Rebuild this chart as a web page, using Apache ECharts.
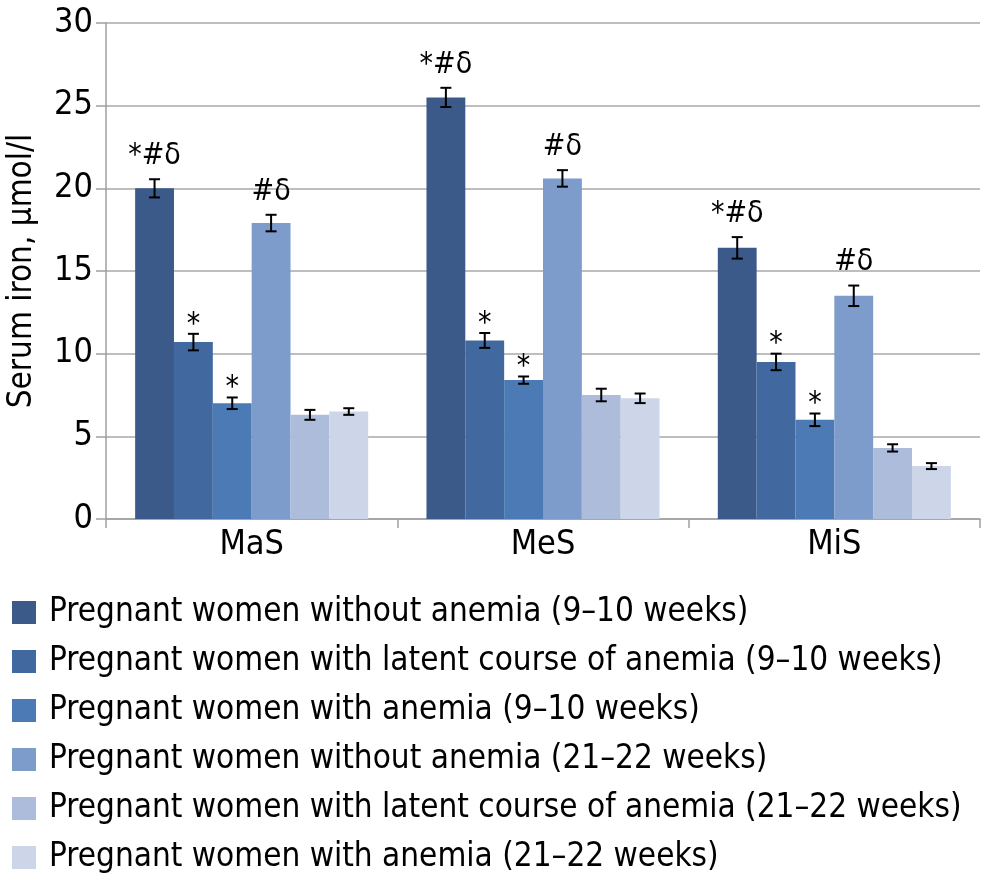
<!DOCTYPE html>
<html><head><meta charset="utf-8">
<script src="https://cdn.jsdelivr.net/npm/echarts@6/dist/echarts.min.js"></script>
<style>html,body{margin:0;padding:0;background:#fff}#c{width:982px;height:881px}</style>
</head><body><div id="c"></div>
<script>
const categories = ['MaS', 'MeS', 'MiS'];
const seriesNames = [
  'Pregnant women without anemia (9–10 weeks)',
  'Pregnant women with latent course of anemia (9–10 weeks)',
  'Pregnant women with anemia (9–10 weeks)',
  'Pregnant women without anemia (21–22 weeks)',
  'Pregnant women with latent course of anemia (21–22 weeks)',
  'Pregnant women with anemia (21–22 weeks)'
];
// values per series: [MaS, MeS, MiS]
const s1 = [20.0, 25.5, 16.4];
const s2 = [10.7, 10.8, 9.5];
const s3 = [7.0, 8.4, 6.0];
const s4 = [17.9, 20.6, 13.5];
const s5 = [6.3, 7.5, 4.3];
const s6 = [6.5, 7.3, 3.2];
// error (±) per series
const e1 = [0.55, 0.58, 0.65];
const e2 = [0.5, 0.45, 0.5];
const e3 = [0.35, 0.22, 0.38];
const e4 = [0.5, 0.5, 0.62];
const e5 = [0.3, 0.38, 0.22];
const e6 = [0.2, 0.29, 0.18];
// significance marks
const m1 = ['*#δ', '*#δ', '*#δ'];
const m2 = ['*', '*', '*'];
const m3 = ['*', '*', '*'];
const m4 = ['#δ', '#δ', '#δ'];
const m5 = ['', '', ''];
const m6 = ['', '', ''];
const yTicks = [0, 5, 10, 15, 20, 25, 30];

const values = [s1, s2, s3, s4, s5, s6];
const errors = [e1, e2, e3, e4, e5, e6];
const marks = [m1, m2, m3, m4, m5, m6];
const colors = ['#3B5A8A', '#4169A0', '#4B7AB5', '#7D9BCB', '#AEBCDC', '#CDD5E9'];
const FONT = "'DejaVu Sans Condensed', 'DejaVu Sans', sans-serif";

const errData = [];
const errMarks = [];
for (let s = 0; s < 6; s++) {
  for (let c = 0; c < categories.length; c++) {
    errData.push([c, s, values[s][c], errors[s][c]]);
    errMarks.push(marks[s][c]);
  }
}

const series = seriesNames.map((n, i) => ({
  name: n, type: 'bar', data: values[i],
  barGap: '0%', barCategoryGap: '20%',
  itemStyle: { color: colors[i] }
}));
series.push({
  type: 'custom', name: 'err', z: 10, silent: true,
  data: errData,
  encode: { x: 0, y: 2 },
  renderItem: function (params, api) {
    const c = api.value(0), s = api.value(1), v = api.value(2), e = api.value(3);
    const band = api.size([1, 0])[0];
    const bw = band * 0.8 / 6;
    const cx = api.coord([c, 0])[0] - band * 0.4 + (s + 0.5) * bw;
    const yT = api.coord([c, v + e])[1];
    const yB = api.coord([c, v - e])[1];
    const hw = 5.5;
    const st = { stroke: '#000', lineWidth: 2 };
    const children = [
      { type: 'line', shape: { x1: cx, y1: yT, x2: cx, y2: yB }, style: st },
      { type: 'line', shape: { x1: cx - hw, y1: yT, x2: cx + hw, y2: yT }, style: st },
      { type: 'line', shape: { x1: cx - hw, y1: yB, x2: cx + hw, y2: yB }, style: st }
    ];
    const t = errMarks[params.dataIndex];
    if (t) {
      const dy = t === '*' ? 6 : -8;
      children.push({ type: 'text', style: { text: t, x: cx, y: yT + dy, align: 'center', verticalAlign: 'bottom', fill: '#000', font: '30px ' + FONT } });
    }
    return { type: 'group', children: children };
  }
});

const chart = echarts.init(document.getElementById('c'));
chart.setOption({
  animation: false,
  textStyle: { fontFamily: FONT },
  grid: { left: 106, right: 2, top: 23, bottom: 362, containLabel: false, outerBoundsMode: 'none' },
  legend: {
    data: seriesNames, orient: 'vertical', left: 7, top: 591, height: 288,
    itemWidth: 24, itemHeight: 23, itemGap: 16, icon: 'rect',
    textStyle: { fontSize: 33, color: '#000', fontFamily: FONT, padding: [0, 0, 0, 8] }
  },
  xAxis: {
    type: 'category', data: categories,
    axisLine: { lineStyle: { color: '#A0A0A0', width: 1.5 } },
    axisTick: { show: true, length: 9, alignWithLabel: false, lineStyle: { color: '#A0A0A0', width: 1.5 } },
    axisLabel: { color: '#000', fontSize: 34, margin: 9, fontFamily: FONT }
  },
  yAxis: {
    type: 'value', min: 0, max: 30, interval: 5,
    name: 'Serum iron, μmol/l', nameLocation: 'middle', nameGap: 67,
    nameTextStyle: { color: '#000', fontSize: 33, fontFamily: FONT },
    axisLine: { show: true, lineStyle: { color: '#A0A0A0', width: 1.5 } },
    axisTick: { show: true, length: 10, lineStyle: { color: '#A0A0A0', width: 1.5 } },
    axisLabel: { color: '#000', fontSize: 34, margin: 13, fontFamily: FONT,
      formatter: v => yTicks.includes(v) ? String(v) : '' },
    splitLine: { lineStyle: { color: '#A8A8A8', width: 1.5 } }
  },
  series: series
});
</script></body></html>
